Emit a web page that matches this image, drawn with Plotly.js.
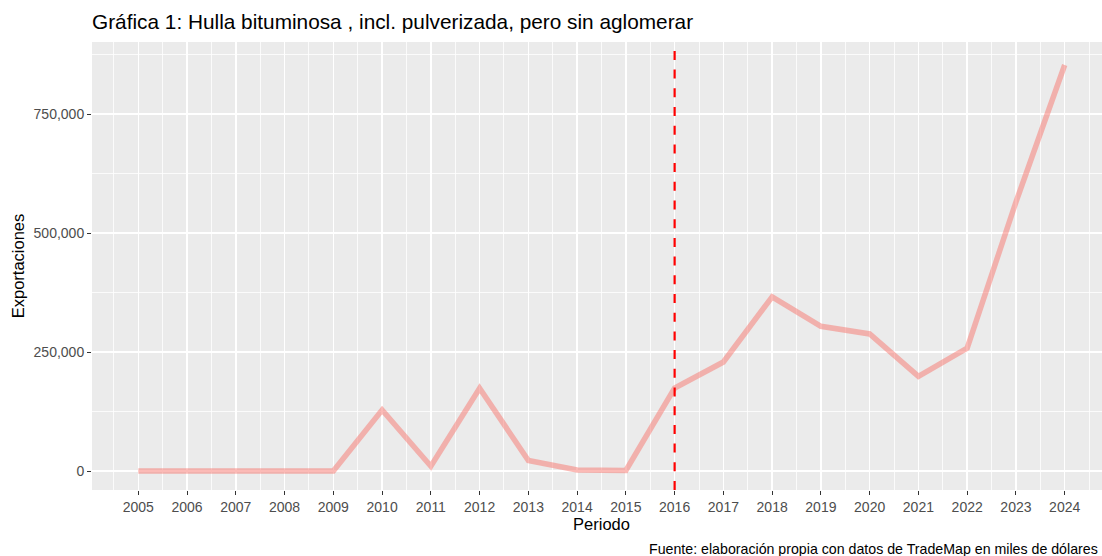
<!DOCTYPE html>
<html>
<head>
<meta charset="utf-8">
<script src="https://cdn.plot.ly/plotly-3.0.1.min.js"></script>
<style>
  html, body { margin: 0; padding: 0; overflow: hidden; background: #fff; }
  #chart { width: 1115px; height: 556px; }
</style>
</head>
<body>
<div id="chart"></div>
<script>
const periodos = [2005, 2006, 2007, 2008, 2009, 2010, 2011, 2012, 2013, 2014,
                  2015, 2016, 2017, 2018, 2019, 2020, 2021, 2022, 2023, 2024];
const exportaciones = [0, 0, 0, 0, 0, 128000, 10000, 174000, 22000, 2000,
                       1000, 174000, 229000, 366000, 304000, 288000, 199000, 258000, 565000, 853000];
const anioCorte = 2016;
const yTicks = [0, 250000, 500000, 750000];
const yTickText = ["0", "250,000", "500,000", "750,000"];

const font = "Liberation Sans, Arial, sans-serif";

const traces = [{
  x: periodos,
  y: exportaciones,
  type: "scatter",
  mode: "lines",
  line: { color: "rgba(248,118,109,0.5)", width: 5.5 },
  hoverinfo: "x+y"
}];

const layout = {
  width: 1115,
  height: 556,
  margin: { l: 92, r: 4, t: 42, b: 66 },
  paper_bgcolor: "#ffffff",
  plot_bgcolor: "#EBEBEB",
  showlegend: false,
  font: { family: font, color: "#000" },
  title: {
    text: "Gráfica 1: Hulla bituminosa , incl. pulverizada, pero sin aglomerar",
    font: { family: font, size: 20.8, color: "#000" },
    xref: "paper", x: 0, xanchor: "left",
    yref: "container", y: 1 - 22 / 556, yanchor: "middle"
  },
  xaxis: {
    range: [2004.05, 2024.95],
    tickmode: "array",
    tickvals: periodos,
    ticktext: periodos.map(String),
    showgrid: true,
    gridcolor: "#ffffff",
    gridwidth: 1.6,
    minor: { tickmode: "linear", tick0: 2004.5, dtick: 1, showgrid: true, gridcolor: "#ffffff", gridwidth: 0.8, ticks: "" },
    zeroline: false,
    showline: false,
    ticks: "outside",
    ticklen: 4,
    tickwidth: 1,
    tickcolor: "#333333",
    tickfont: { family: font, size: 14, color: "#4D4D4D" },
    title: { text: "Periodo", font: { family: font, size: 16.5, color: "#000" }, standoff: 4 }
  },
  yaxis: {
    range: [-39916, 901260],
    tickmode: "array",
    tickvals: yTicks,
    ticktext: yTickText,
    showgrid: true,
    gridcolor: "#ffffff",
    gridwidth: 1.6,
    minor: { tickmode: "linear", tick0: 125000, dtick: 250000, showgrid: true, gridcolor: "#ffffff", gridwidth: 0.8, ticks: "" },
    zeroline: false,
    showline: false,
    ticks: "outside",
    ticklen: 4,
    tickwidth: 1,
    tickcolor: "#333333",
    tickfont: { family: font, size: 14, color: "#4D4D4D" },
    title: { text: "Exportaciones", font: { family: font, size: 16.5, color: "#000" }, standoff: 4 }
  },
  shapes: [{
    type: "line",
    xref: "x", yref: "paper",
    x0: anioCorte, x1: anioCorte, y0: 0, y1: 1,
    line: { color: "#FF0000", width: 2.2, dash: "9px,9.7px" }
  }],
  annotations: [{
    text: "Fuente: elaboración propia con datos de TradeMap en miles de dólares",
    xref: "paper", yref: "paper",
    x: (1100 - 92) / 1019, y: (490 - 549) / 448,
    xanchor: "right", yanchor: "middle",
    showarrow: false,
    font: { family: font, size: 14.2, color: "#000" }
  }]
};

Plotly.newPlot("chart", traces, layout, { displayModeBar: false, staticPlot: true });
</script>
</body>
</html>
